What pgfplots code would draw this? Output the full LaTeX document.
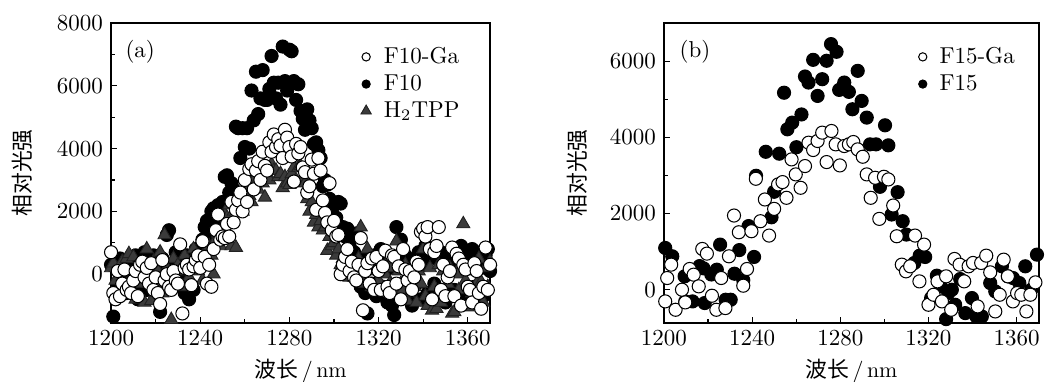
\documentclass[border=0pt]{standalone}
\usepackage{fontspec}
\usepackage{pgfplots}
\pgfplotsset{compat=1.18}
\newfontfamily\cjk{Noto Sans CJK SC}

\pgfplotsset{
  myaxis/.style={
    scale only axis, height=130.4pt,
    xmin=1200, xmax=1370,
    xtick={1200,1240,1280,1320,1360},
    minor x tick num=1, minor y tick num=1,
    tick align=inside, tick pos=left,
    major tick length=2.6pt, minor tick length=1.7pt,
    axis line style={line width=0.8pt},
    every tick/.style={black, line width=0.5pt},
    scaled y ticks=false, scaled x ticks=false,
    /pgf/number format/1000 sep={},
    tick label style={font=\fontsize{10}{12}\selectfont},
    xlabel={{\cjk 波长}\,/\,nm},
    ylabel={\cjk 相对光强},
    label style={font=\fontsize{9.5}{11}\selectfont},
    xlabel style={at={(axis description cs:0.5,-0.16)}, anchor=center},
    legend style={draw=none, fill=none, font=\fontsize{10}{12}\selectfont, row sep=-0.6pt, column sep=3.5pt},
    legend cell align=left,
  },
  openc/.style={only marks, mark=*, mark size=2.85pt, mark options={fill=white, draw=black, line width=0.45pt}},
  fillc/.style={only marks, mark=*, mark size=2.85pt, mark options={fill=black, draw=black, line width=0.45pt}},
  tri/.style={only marks, mark=triangle*, mark size=3.3pt, mark options={fill=black!77, draw=black!87, line width=0.4pt}},
}

\begin{document}
\begin{tikzpicture}
\useasboundingbox (-48.3pt,-25.7pt) rectangle (407pt,140.4pt);
% ---------------- panel (a)
\begin{axis}[myaxis, at={(0pt,0pt)}, anchor=south west, width=164.8pt,
  ymin=-1550, ymax=8000, ytick={0,2000,4000,6000,8000},
  ylabel style={at={(axis description cs:-0.234,0.5)}, anchor=center},
  legend style={at={(rel axis cs:0.64,0.952)}, anchor=north west}]
\addlegendimage{only marks, mark=*, mark size=1.8pt, mark options={fill=white, draw=black, line width=0.45pt}}
\addlegendentry{F10-Ga}
\addlegendimage{only marks, mark=*, mark size=1.8pt, mark options={fill=black, draw=black}}
\addlegendentry{F10}
\addlegendimage{only marks, mark=triangle*, mark size=2.6pt, mark options={fill=black!77, draw=black!87}}
\addlegendentry{H$_2$TPP}
% F10
\addplot[fillc, forget plot] table {
x y
1200 300
1201 -1350
1202 200
1203 -300
1204 500
1205 -200
1206 100
1207 -600
1208 400
1209 -100
1210 -400
1211 600
1212 -800
1213 200
1214 -300
1215 700
1216 -500
1217 400
1218 -100
1219 600
1220 -700
1221 300
1222 -1200
1223 500
1224 -200
1225 1250
1226 1400
1227 300
1228 -400
1229 700
1230 100
1231 500
1232 -200
1233 -600
1234 600
1235 -800
1236 200
1237 -500
1238 800
1239 300
1240 600
1241 1100
1242 1500
1243 1700
1244 1300
1245 2000
1246 2100
1247 1600
1248 2200
1249 2000
1250 2300
1251 3100
1252 3150
1253 2600
1254 2900
1255 2700
1256 4700
1257 4650
1258 3700
1259 4650
1260 4050
1261 4650
1262 4000
1263 5850
1264 4900
1265 6450
1266 5100
1267 5600
1268 6500
1269 5550
1270 5550
1271 5900
1272 6950
1273 6100
1274 5600
1275 6100
1276 5400
1277 7250
1278 6150
1279 5850
1280 7150
1281 7100
1282 6150
1283 5550
1284 6050
1285 5200
1286 4950
1287 4600
1288 5250
1289 4900
1290 4650
1291 4150
1292 4200
1293 3950
1294 3700
1295 2800
1296 3000
1297 2850
1298 2400
1299 2050
1300 2200
1301 1800
1302 2300
1303 2250
1304 1500
1305 1200
1306 1450
1307 900
1308 1200
1309 700
1310 1300
1311 200
1312 -400
1313 500
1314 -600
1315 -1250
1316 300
1317 -300
1318 600
1319 -700
1320 100
1321 800
1322 -400
1323 400
1324 -900
1325 200
1326 -1000
1327 -1300
1328 1500
1329 300
1330 1100
1331 -500
1332 600
1333 -700
1334 200
1335 -1000
1336 400
1337 -300
1338 700
1339 -800
1340 300
1341 900
1342 -600
1343 600
1344 800
1345 -300
1346 500
1347 -700
1348 700
1349 400
1350 -900
1351 600
1352 300
1353 800
1354 -500
1355 700
1356 200
1357 900
1358 500
1359 -800
1360 600
1361 300
1362 800
1363 -400
1364 700
1365 400
1366 200
1367 -700
1368 600
1369 800
1370 100
};
% H2TPP
\addplot[tri, forget plot] table {
x y
1200 200
1201 350
1202 -200
1203 -700
1204 100
1205 400
1206 -500
1207 500
1208 650
1209 -100
1210 550
1211 -800
1212 300
1213 -300
1214 100
1215 -900
1216 800
1217 200
1218 -850
1219 400
1220 -300
1221 100
1222 700
1223 -600
1224 1250
1225 200
1226 -300
1227 -1450
1228 500
1229 -200
1230 300
1231 100
1232 -400
1233 600
1234 200
1235 -100
1236 400
1237 800
1238 300
1239 100
1240 500
1241 -200
1242 700
1243 300
1244 900
1245 600
1246 0
1247 1100
1248 1300
1249 900
1250 1500
1251 1900
1252 1800
1253 2200
1254 900
1255 2000
1256 850
1257 2500
1258 2300
1259 2000
1260 2600
1261 2800
1262 2500
1263 2300
1264 3000
1265 2900
1266 2700
1267 3100
1268 2900
1269 2450
1270 3200
1271 3000
1272 3500
1273 3300
1274 3300
1275 3100
1276 3200
1277 2750
1278 3100
1279 2900
1280 2850
1281 3200
1282 3400
1283 3000
1284 3400
1285 3450
1286 3100
1287 2900
1288 2400
1289 2000
1290 2300
1291 1650
1292 1900
1293 1500
1294 1700
1295 1400
1296 1500
1297 750
1298 1200
1299 900
1300 1000
1301 600
1302 800
1303 300
1304 500
1305 200
1306 400
1307 -100
1308 300
1309 -100
1310 0
1311 500
1312 1500
1313 200
1314 -300
1315 800
1316 300
1317 -400
1318 100
1319 500
1320 -200
1321 300
1322 -500
1323 0
1324 400
1325 -300
1326 200
1327 -600
1328 1050
1329 100
1330 -300
1331 -500
1332 300
1333 -850
1334 -600
1335 200
1336 -400
1337 -900
1338 100
1339 -300
1340 800
1341 -700
1342 -1000
1343 200
1344 -1150
1345 -400
1346 -1100
1347 300
1348 -900
1349 100
1350 -600
1351 -300
1352 200
1353 -1250
1354 -1200
1355 0
1356 -500
1357 300
1358 1600
1359 -200
1360 -1050
1361 100
1362 -600
1363 300
1364 -300
1365 500
1366 -250
1367 -900
1368 200
1369 -400
1370 400
};
% F10-Ga
\addplot[openc, forget plot] table {
x y
1200 700
1201 -600
1202 -800
1203 100
1204 -700
1205 -300
1206 150
1207 -500
1208 -400
1209 -600
1210 -200
1211 100
1212 -700
1213 300
1214 400
1215 -100
1216 200
1217 -300
1218 350
1219 -500
1220 -100
1221 -600
1222 -950
1223 450
1224 -200
1225 0
1226 -400
1227 -500
1228 100
1229 -200
1230 -300
1231 950
1232 -1250
1233 200
1234 300
1235 150
1236 -350
1237 250
1238 450
1239 600
1240 200
1241 1050
1242 550
1243 -300
1244 300
1245 -400
1246 800
1247 1400
1248 1900
1249 1100
1250 1200
1251 1150
1252 1600
1253 1200
1254 2300
1255 1650
1256 2050
1257 2350
1258 2600
1259 2000
1260 3000
1261 2300
1262 3350
1263 3500
1264 2700
1265 3300
1266 3600
1267 3000
1268 3900
1269 3450
1270 3300
1271 4200
1272 3900
1273 4450
1274 4050
1275 4300
1276 4100
1277 3700
1278 4600
1279 4350
1280 4050
1281 3750
1282 2950
1283 4150
1284 3850
1285 4050
1286 3400
1287 3250
1288 2600
1289 2800
1290 3650
1291 3200
1292 2050
1293 3700
1294 3300
1295 2350
1296 1950
1297 1650
1298 2900
1299 1400
1300 1700
1301 1200
1302 1250
1303 0
1304 300
1305 550
1306 800
1307 100
1308 400
1309 -100
1310 -200
1311 300
1312 1150
1313 -1150
1314 100
1315 350
1316 -300
1317 500
1318 -500
1319 550
1320 100
1321 -500
1322 250
1323 750
1324 -400
1325 -600
1326 600
1327 550
1328 -300
1329 250
1330 -800
1331 800
1332 150
1333 -200
1334 100
1335 -500
1336 -100
1337 400
1338 300
1339 1350
1340 1450
1341 1200
1342 1500
1343 800
1344 -800
1345 700
1346 900
1347 1500
1348 -500
1349 300
1350 -700
1351 -100
1352 100
1353 850
1354 -700
1355 650
1356 500
1357 -1000
1358 300
1359 150
1360 -400
1361 -500
1362 -900
1363 350
1364 100
1365 -600
1366 -1100
1367 -400
1368 850
1369 -500
1370 300
};
\node at (rel axis cs:0.077,0.903) {\fontsize{10}{12}\selectfont (a)};
\end{axis}
% ---------------- panel (b)
\begin{axis}[myaxis, at={(240.4pt,0pt)}, anchor=south west, width=163pt,
  ymin=-870, ymax=7000, ytick={0,2000,4000,6000},
  ylabel style={at={(axis description cs:-0.232,0.5)}, anchor=center},
  legend style={at={(rel axis cs:0.66,0.952)}, anchor=north west}]
\addlegendimage{only marks, mark=*, mark size=1.8pt, mark options={fill=white, draw=black, line width=0.45pt}}
\addlegendentry{F15-Ga}
\addlegendimage{only marks, mark=*, mark size=1.8pt, mark options={fill=black, draw=black}}
\addlegendentry{F15}
% F15
\addplot[fillc, forget plot] table {
x y
1200.6 1096
1203.8 877
1209.4 351
1209.7 -307
1213.0 -307
1216.2 620
1218.0 560
1218.5 -350
1221.5 400
1224.0 526
1225.5 1184
1228.0 -263
1230.3 -263
1232.0 420
1234.2 1040
1236.0 250
1238.4 1670
1240.9 860
1241.8 2990
1246.2 3620
1248.8 1900
1250.0 2570
1252.3 3570
1254.5 5170
1256.0 4210
1258.2 4385
1260.1 3740
1262.4 4600
1264.0 5595
1265.6 5437
1267.7 6033
1269.7 5086
1271.8 5525
1273.8 6008
1275.8 6446
1278.3 6244
1279.5 5244
1281.8 5437
1283.9 5192
1285.5 4736
1287.9 5744
1289.7 4955
1292.0 4517
1293.5 3815
1296.2 3815
1298.0 2701
1300.3 4315
1301.8 3789
1303.3 1973
1306.0 2560
1308.3 1798
1310.0 1447
1313.6 702
1316.0 894
1318.5 859
1321.2 -219
1323.8 368
1325.6 88
1328.0 -772
1329.0 -88
1330.6 0
1332.1 -395
1334.4 280
1336.7 -614
1339.7 -219
1341.7 -702
1344.2 -702
1348.0 175
1350.3 -44
1353.3 614
1356.0 351
1358.3 307
1361.2 175
1363.9 614
1366.6 0
1369.2 921
1370.5 -745
};
% F15-Ga
\addplot[openc, forget plot] table {
x y
1200.6 -307
1201.5 307
1203.3 658
1205.3 -526
1208.2 0
1209.7 -333
1211.7 544
1213.5 395
1215.8 88
1217.4 1070
1219.5 947
1221.8 -158
1223.8 -526
1226.0 307
1227.9 -482
1229.5 877
1231.8 1947
1234.0 1508
1236.0 105
1237.7 544
1239.7 1535
1241.7 2912
1243.8 1798
1245.8 2368
1247.7 1421
1250.0 2122
1251.8 2763
1253.8 2824
1255.6 2412
1257.9 3420
1259.8 3026
1262.0 2675
1264.0 3245
1265.6 3859
1267.7 3666
1269.7 3903
1271.8 4122
1273.8 3350
1276.0 4166
1277.9 3815
1279.8 3262
1281.8 3771
1283.9 3815
1285.9 3876
1287.9 3683
1290.2 3490
1292.0 3026
1293.8 2412
1295.8 2938
1297.7 1859
1299.8 2964
1301.8 2894
1304.0 2210
1305.6 1403
1307.9 658
1309.8 482
1311.7 614
1313.9 1421
1315.9 219
1318.0 1184
1320.0 -395
1322.3 -132
1324.1 219
1326.1 -307
1328.0 351
1330.3 -526
1331.8 807
1334.1 658
1336.2 219
1338.2 614
1340.2 702
1342.3 -438
1343.9 702
1346.2 894
1348.0 456
1350.3 -570
1352.3 -132
1354.1 789
1356.0 351
1358.3 -307
1360.2 -88
1362.1 -132
1364.4 -570
1366.2 -132
1368.5 193
1370.4 1096
};
\node at (rel axis cs:0.083,0.903) {\fontsize{10}{12}\selectfont (b)};
\end{axis}
\end{tikzpicture}
\end{document}
